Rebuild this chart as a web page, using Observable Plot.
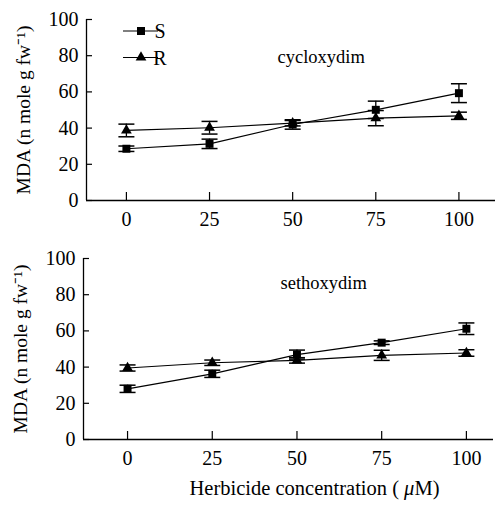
<!DOCTYPE html>
<html>
<head>
<meta charset="utf-8">
<script src="https://cdn.jsdelivr.net/npm/d3@7"></script>
<script src="https://cdn.jsdelivr.net/npm/@observablehq/plot@0.6"></script>
<style>
  html, body { margin: 0; padding: 0; background: #fff; }
  #wrap { width: 496px; }
  svg { display: block; }
  svg text { font-family: 'Liberation Serif', 'Times New Roman', serif; }
</style>
</head>
<body>
<div id="wrap"></div>
<script>
const conc = [0, 25, 50, 75, 100];
const yTicks = [0, 20, 40, 60, 80, 100];
const herbicides = ["cycloxydim", "sethoxydim"];
const seriesNames = ["S", "R"];

const cycS = [28.6, 31.3, 42.0, 50.1, 59.3];
const cycSerr = [1.5, 2.6, 2.6, 4.8, 5.2];
const cycR = [38.7, 40.2, 42.7, 45.5, 46.8];
const cycRerr = [3.5, 3.5, 1.5, 4.2, 2.0];

const setS = [28.0, 36.3, 46.9, 53.5, 61.2];
const setSerr = [2.0, 2.0, 2.5, 1.0, 3.2];
const setR = [39.5, 42.4, 43.7, 46.5, 47.8];
const setRerr = [1.7, 1.5, 1.5, 2.8, 1.8];

const yTitle = "MDA (n mole g fw\u207B\u00B9)";
const xTitle = "Herbicide concentration ( \u03BCM)";

function rows(vals, errs, series) {
  return conc.map((c, i) => ({x: c, y: vals[i], e: errs[i], series}));
}

const capSymbol = {
  draw(ctx) { ctx.moveTo(-8, 0); ctx.lineTo(8, 0); }
};

const FONT = "'Liberation Serif', 'Times New Roman', serif";

function panel({S, R, label, height, marginTop, marginBottom, marginLeft, marginRight, xDomain, labelDx, labelDy, extra = []}) {
  const data = [...S, ...R];
  return Plot.plot({
    width: 496,
    height,
    marginTop, marginBottom, marginLeft, marginRight,
    style: {fontFamily: FONT, fontSize: "18px", color: "#000", background: "#fff"},
    x: {domain: xDomain, ticks: conc, label: null},
    y: {domain: [0, 100], ticks: yTicks, label: null},
    marks: [
      Plot.axisY(yTicks, {tickSize: -6, text: null, strokeWidth: 1.2, label: null}),
      Plot.axisY(yTicks, {tickSize: 0, tickPadding: 8, fontSize: 20, label: null}),
      Plot.axisX(conc, {anchor: "bottom", tickSize: -8, text: null, strokeWidth: 1.2, label: null}),
      Plot.axisX(conc, {anchor: "bottom", tickSize: 0, tickPadding: 11, fontSize: 20, label: null}),
      Plot.ruleY([0], {strokeWidth: 1.3}),
      Plot.ruleX([xDomain[0]], {strokeWidth: 1.3}),
      Plot.line(S, {x: "x", y: "y", stroke: "#000", strokeWidth: 1.2}),
      Plot.line(R, {x: "x", y: "y", stroke: "#000", strokeWidth: 1.2}),
      Plot.ruleX(data, {x: "x", y1: d => d.y - d.e, y2: d => d.y + d.e, stroke: "#000", strokeWidth: 1.3}),
      Plot.dot(data, {x: "x", y: d => d.y + d.e, symbol: capSymbol, stroke: "#000", strokeWidth: 1.5, fill: "none"}),
      Plot.dot(data, {x: "x", y: d => d.y - d.e, symbol: capSymbol, stroke: "#000", strokeWidth: 1.5, fill: "none"}),
      Plot.dot(S, {x: "x", y: "y", symbol: "square", r: 4.5, fill: "#000", stroke: null}),
      Plot.dot(R, {x: "x", y: "y", symbol: "triangle", r: 4, fill: "#000", stroke: null}),
      Plot.text([label], {frameAnchor: "top-left", dx: labelDx, dy: labelDy, textAnchor: "start", lineAnchor: "middle", fontSize: 18.5}),
      Plot.text([yTitle], {frameAnchor: "left", dx: -63, rotate: -90, textAnchor: "middle", lineAnchor: "middle", fontSize: 19.5}),
      ...extra
    ]
  });
}

const topPanel = panel({
  S: rows(cycS, cycSerr, "S"), R: rows(cycR, cycRerr, "R"),
  label: herbicides[0],
  height: 240, marginTop: 19, marginBottom: 40, marginLeft: 86, marginRight: 1,
  xDomain: [-12, 111], labelDx: 191, labelDy: 38
});

const bottomPanel = panel({
  S: rows(setS, setSerr, "S"), R: rows(setR, setRerr, "R"),
  label: herbicides[1],
  height: 266, marginTop: 18, marginBottom: 67, marginLeft: 83, marginRight: 3,
  xDomain: [-13, 108], labelDx: 197, labelDy: 25,
  extra: [
    Plot.text([xTitle], {frameAnchor: "bottom", dx: 26, dy: 49, textAnchor: "middle", lineAnchor: "middle", fontSize: 20.5})
  ]
});

// Legend inside the top panel
const leg = d3.select(topPanel).append("g").style("font-family", FONT).style("font-size", "20px");
const legendY = [31, 57.5];
seriesNames.forEach((name, i) => {
  const g = leg.append("g").attr("transform", `translate(123,${legendY[i]})`);
  g.append("line").attr("x1", 0).attr("x2", 35).attr("stroke", "#000").attr("stroke-width", 1.2);
  const sym = name === "S" ? d3.symbol(d3.symbolSquare, 64)() : d3.symbol(d3.symbolTriangle, 50)();
  g.append("path").attr("transform", "translate(18,0)").attr("d", sym).attr("fill", "#000");
  g.append("text").attr("x", 37).attr("dy", "0.35em").text(name);
});

// italic mu in x title
d3.select(bottomPanel).selectAll("text").each(function() {
  if (this.textContent === xTitle) {
    const t = d3.select(this);
    t.text(null);
    t.append("tspan").text("Herbicide concentration ( ");
    t.append("tspan").attr("font-style", "italic").text("\u03BC");
    t.append("tspan").text("M)");
  }
});

document.getElementById("wrap").append(topPanel, bottomPanel);
</script>
</body>
</html>
